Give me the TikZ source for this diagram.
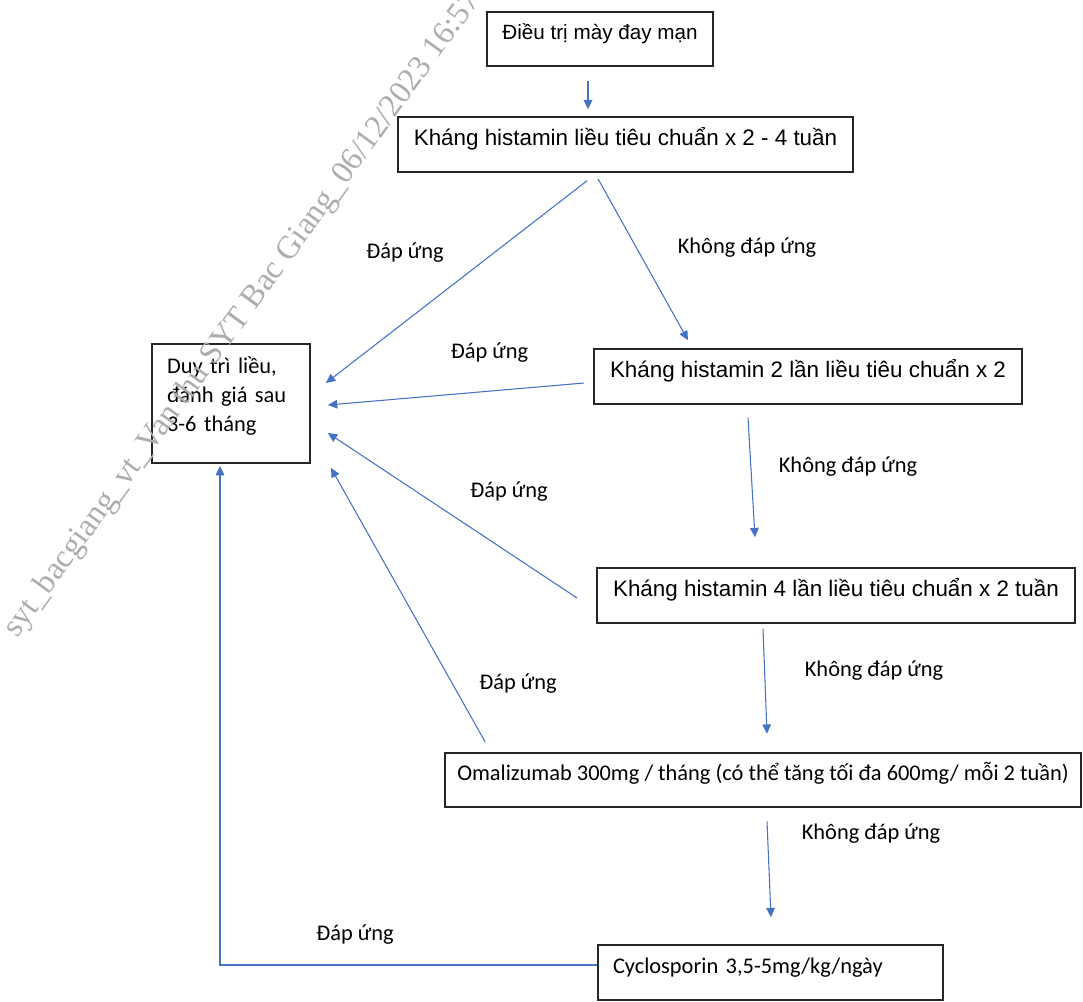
\documentclass[tikz,border=0pt]{standalone}
\usepackage{fontspec}
\setmainfont{Liberation Sans}
\newfontfamily\calibrifont{Carlito}
\newfontfamily\stampfont{Liberation Serif}
\usepackage{xcolor}
\usetikzlibrary{positioning,arrows.meta,calc}
\definecolor{flowblue}{RGB}{68,114,196}

\begin{document}
\begin{tikzpicture}[x=0.75pt, y=-0.75pt, >={Triangle[length=7pt,width=6.5pt]},
    box/.style={draw=black!85, line width=1.4pt, inner xsep=2pt, inner ysep=0pt,
        text height=21pt, text depth=20pt, font=\fontsize{16.8}{20}\selectfont},
    flow/.style={->, draw=flowblue, line width=0.8pt},
    lbl/.style={font=\calibrifont\fontsize{16.8}{20}\selectfont}]

\useasboundingbox (0,0) rectangle (1083,1001);

% ===========================
% Boxes
% ===========================
\node[box, minimum width=169.5pt, font=\fontsize{15.5}{18}\selectfont] (dieutri) at (600,39) {Điều trị mày đay mạn};
\node[box, minimum width=341.25pt] (kh1) at (625.5,144.5) {Kháng histamin liều tiêu chuẩn x 2 - 4 tuần};
\node[box, minimum width=321pt] (kh2) at (808,376.5) {Kháng histamin 2 lần liều tiêu chuẩn x 2};
\node[box, minimum width=358.5pt] (kh4) at (836,595.5) {Kháng histamin 4 lần liều tiêu chuẩn x 2 tuần};
\node[box, minimum width=477pt, font=\calibrifont\fontsize{16.8}{20}\selectfont] (omali) at (763,780)
    {Omalizumab 300mg / tháng (có thể tăng tối đa 600mg/ mỗi 2 tuần)};
\node[box, inner xsep=11.25pt, text width=236.25pt, align=left,
    font=\calibrifont\fontsize{16.8}{20}\selectfont] (cyclo) at (770.5,972.5) {Cyclosporin 3,5-5mg/kg/ngày};

% Left box, text at the top
\node[box, inner xsep=11.25pt, text width=96pt, align=left, text height=21.75pt, text depth=67.5pt,
    font=\calibrifont\fontsize{16.8}{22}\selectfont] (duytri) at (231,403.5)
    {Duy trì liều,\\ đánh giá sau\\ 3-6 tháng};

% ===========================
% Arrows
% ===========================
\draw[flow] ($(dieutri.south)+(-12,14)$) -- ($(kh1.north)+(-37.5,-7)$);
\draw[flow] ($(kh1.south)+(-38.5,8)$) -- ($(duytri.east)+(15,-20.5)$);
\draw[flow] ($(kh1.south)+(-27.5,6)$) -- ($(kh2.north)+(-120,-8)$);
\draw[flow] ($(kh2.west)+(-9,6.5)$) -- ($(duytri.east)+(17,1.5)$);
\draw[flow] ($(kh2.south)+(-60,13)$) -- ($(kh4.north)+(-81,-30)$);
\draw[flow] ($(kh4.west)+(-19,2.5)$) -- ($(duytri.east)+(17,29.5)$);
\draw[flow] ($(kh4.south)+(-73,5)$) -- ($(omali.north)+(4,-18)$);
\draw[flow] ($(omali.north west)+(41,-10)$) -- ($(duytri.south east)+(20,4)$);
\draw[flow] ($(omali.south)+(4,13)$) -- ($(cyclo.north)+(0.5,-27)$);
\draw[flow] ($(cyclo.west)+(0,-7.5)$) -| ($(duytri.south)+(-11,2)$);

% Labels
\node[lbl] (dap1) at (405,253) {Đáp ứng};
\node[lbl] (khong1) at (747,248) {Không đáp ứng};
\node[lbl] (dap2) at (489.5,353) {Đáp ứng};
\node[lbl] (khong2) at (848,467) {Không đáp ứng};
\node[lbl] (dap3) at (509,492) {Đáp ứng};
\node[lbl] (khong3) at (874,671) {Không đáp ứng};
\node[lbl] (dap4) at (518,684) {Đáp ứng};
\node[lbl] (khong4) at (871,834) {Không đáp ứng};
\node[lbl] (dap5) at (355,935) {Đáp ứng};

% Stamp
\node[rotate=54, anchor=base west, inner sep=0pt, text=black!32,
    font=\stampfont\fontsize{24.3}{25}\selectfont] (stamp) at (17,639)
    {syt\_bacgiang\_vt\_Van thu SYT Bac Giang\_06/12/2023 16:57};

\end{tikzpicture}
\end{document}
